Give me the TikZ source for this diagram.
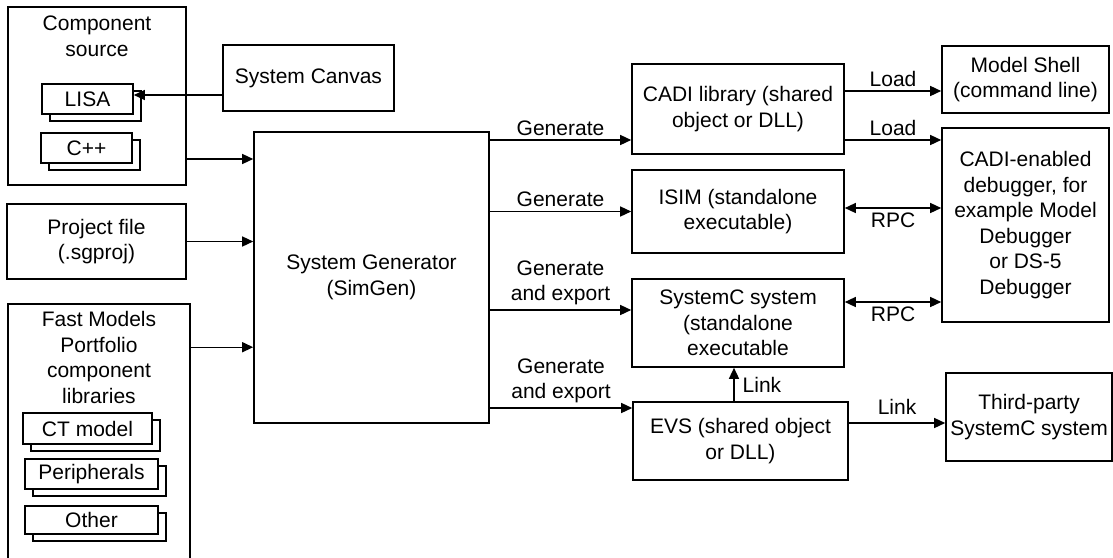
\documentclass[tikz,border=0pt]{standalone}
\usepackage{fontspec}
\setmainfont{Liberation Sans}
\usepackage{tikz}
\usetikzlibrary{arrows.meta,shadows,calc}

\begin{document}
\begin{tikzpicture}[x=0.5pt,y=-0.5pt]
    \tikzstyle{edge}  = [line width=0.7pt,draw=black]
    \tikzstyle{dedge} = [edge,-{Triangle[length=5.5pt,width=5pt]}]
    \tikzstyle{bdedge} = [edge,{Triangle[length=5.5pt,width=5pt]}-{Triangle[length=5.5pt,width=5pt]}]
    \tikzstyle{txt}=[
      align=center,
      font=\fontsize{10.5}{12.8}\selectfont,
    ]
    \tikzstyle{box}=[
      txt,
      rectangle,
      draw=black,
      line width=0.8pt,
      fill=white,
      inner sep=1pt,
    ]
    \tikzstyle{stack}=[
      box,
      copy shadow={shadow xshift=4pt,shadow yshift=-3.5pt},
    ]
    \tikzstyle{elabel}=[
      txt,
      inner sep=2pt,
    ]

    \clip (0,0) rectangle (1113,557);

    % inputs
    {
      \node[box, minimum width=89pt, minimum height=89pt] (src) at (97,96) {};
      \node[txt] (srcTitle) at (97,36) {Component\\source};
      \node[stack, minimum width=45.5pt, minimum height=15pt] (lisa) at (87.5,99) {LISA};
      \node[stack, minimum width=45.5pt, minimum height=15pt] (cpp) at (86.5,148) {C++};

      \node[box, minimum width=85.5pt, minimum height=33pt] (canvas) at (308.5,78) {System Canvas};

      \node[box, minimum width=89.5pt, minimum height=37.5pt] (proj) at (96.5,241.5) {Project file\\(.sgproj)};

      \node[box, minimum width=91pt, minimum height=150pt] (fm) at (99,454) {};
      \node[txt] (fmTitle) at (99,357.5) {Fast Models\\Portfolio\\component\\libraries};
      \node[stack, minimum width=64.5pt, minimum height=15.5pt] (ct) at (87.5,428.5) {CT model};
      \node[stack, minimum width=66.5pt, minimum height=15pt] (peri) at (91.5,474) {Peripherals};
      \node[stack, minimum width=66.5pt, minimum height=14pt] (other) at (91.5,520) {Other};
    }

    % generator
    {
      \node[box, minimum width=117.5pt, minimum height=145.5pt] (simgen) at (371.5,277.5) {System Generator\\(SimGen)};
    }

    % outputs
    {
      \node[box, minimum width=106pt, minimum height=45pt] (cadi) at (738,109) {CADI library (shared\\object or DLL)};
      \node[box, minimum width=106pt, minimum height=41.5pt] (isim) at (738,211.5) {ISIM (standalone\\executable)};
      \node[box, minimum width=106pt, minimum height=44pt] (sysc) at (738,323) {SystemC system\\(standalone\\executable};
      \node[box, minimum width=107.5pt, minimum height=39pt] (evs) at (740.5,441) {EVS (shared object\\or DLL)};
    }

    % targets
    {
      \node[box, minimum width=83.5pt, minimum height=33.5pt] (shell) at (1025.5,79.5) {Model Shell\\(command line)};
      \node[box, minimum width=83.5pt, minimum height=97pt] (dbg) at (1025.5,225) {CADI-enabled\\debugger, for\\example Model\\Debugger\\or DS-5\\Debugger};
      \node[box, minimum width=83pt, minimum height=44pt] (third) at (1029,417) {Third-party\\SystemC system};
    }

    % into the generator
    {
      \coordinate (lisaIn) at ([yshift=2pt]lisa.east);
      \draw[dedge] (canvas.west |- lisaIn) -- (lisaIn);

      \coordinate (srcOut) at ([yshift=-31.5pt]src.east);
      \draw[dedge] (srcOut) -- (srcOut -| simgen.west);
      \draw[dedge] (proj.east) -- (proj.east -| simgen.west);
      \coordinate (fmOut) at ([yshift=-22pt]fm.north east);
      \draw[dedge] (fmOut) -- (fmOut -| simgen.west);
    }

    % out of the generator
    {
      \coordinate (cadiIn) at ([yshift=-15.5pt]cadi.west);
      \draw[dedge] (simgen.east |- cadiIn) -- (cadiIn) node[elabel,midway,above] {Generate};
      \draw[dedge] (simgen.east |- isim.west) -- (isim.west) node[elabel,midway,above] {Generate};
      \coordinate (syscIn) at ([yshift=6.5pt]sysc.west);
      \draw[dedge] (simgen.east |- syscIn) -- (syscIn) node[elabel,midway,above] {Generate\\and export};
      \coordinate (evsIn) at ([yshift=16.5pt]evs.west);
      \draw[dedge] (simgen.east |- evsIn) -- (evsIn) node[elabel,midway,above] {Generate\\and export};
    }

    % load, rpc and link
    {
      \coordinate (shellIn) at ([yshift=-5.75pt]shell.west);
      \draw[dedge] (cadi.east |- shellIn) -- (shellIn) node[elabel,midway,above] {Load};
      \draw[dedge] (cadi.east |- cadiIn) -- (cadiIn -| dbg.west) node[elabel,midway,above] {Load};

      \coordinate (isimOut) at ([yshift=1.75pt]isim.east);
      \draw[bdedge] (isimOut) -- (isimOut -| dbg.west) node[elabel,midway,below] {RPC};
      \coordinate (syscOut) at ([yshift=10.5pt]sysc.east);
      \draw[bdedge] (syscOut) -- (syscOut -| dbg.west) node[elabel,midway,below] {RPC};

      \coordinate (evsUp) at ([xshift=-3.25pt]evs.north);
      \draw[dedge] (evsUp) -- (evsUp |- sysc.south) node[elabel,midway,right,xshift=2pt] {Link};
      \coordinate (evsOut) at ([yshift=9pt]evs.east);
      \draw[dedge] (evsOut) -- (evsOut -| third.west) node[elabel,midway,above,yshift=2pt] {Link};
    }
\end{tikzpicture}
\end{document}
